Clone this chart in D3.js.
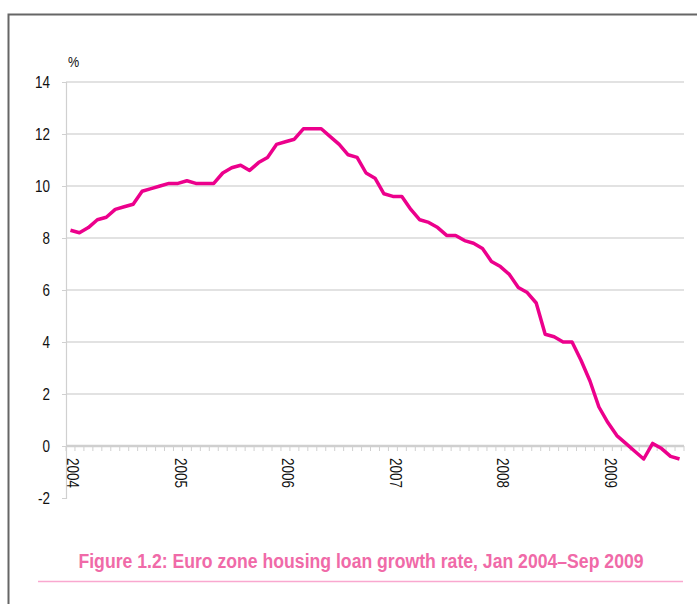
<!DOCTYPE html>
<meta charset="utf-8">
<script src="https://d3js.org/d3.v7.min.js"></script>
<style type="text/css">
  body { margin: 0; background: #fff; }
  text { font-family: "Liberation Sans Narrow", "Arial Narrow", "Liberation Sans", Arial, sans-serif; }
</style>
<body>
</body>
<script>

// monthly categories Jan 2004 - Sep 2009
var months = d3.timeMonth.range(new Date(2004, 0, 1), new Date(2009, 9, 1));
var yearLabels = ["2004", "2005", "2006", "2007", "2008", "2009"];
var yTicks = [-2, 0, 2, 4, 6, 8, 10, 12, 14];

// housing loan growth, % y/y
var growth = [
  8.3, 8.2, 8.4, 8.7, 8.8, 9.1, 9.2, 9.3, 9.8, 9.9, 10.0, 10.1,
  10.1, 10.2, 10.1, 10.1, 10.1, 10.5, 10.7, 10.8, 10.6, 10.9, 11.1, 11.6,
  11.7, 11.8, 12.2, 12.2, 12.2, 11.9, 11.6, 11.2, 11.1, 10.5, 10.3, 9.7,
  9.6, 9.6, 9.1, 8.7, 8.6, 8.4, 8.1, 8.1, 7.9, 7.8, 7.6, 7.1,
  6.9, 6.6, 6.1, 5.9, 5.5, 4.3, 4.2, 4.0, 4.0, 3.3, 2.5, 1.5,
  0.9, 0.4, 0.1, -0.2, -0.5, 0.1, -0.1, -0.4, -0.5
];

var width = 697, height = 604;
var plot = {left: 66, right: 684, top: 82, bottom: 498};
var narrow = 0.84; // squeeze factor to imitate a narrow face

var svg = d3.select("body").append("svg")
  .attr("width", width)
  .attr("height", height);

// frame (top and left edges)
svg.append("path")
  .attr("d", "M8.5," + height + "V14.5H" + width)
  .attr("fill", "none")
  .attr("stroke", "#666")
  .attr("stroke-width", 2);

var fmt = d3.timeFormat("%Y-%m");

var xScale = d3.scaleBand()
  .domain(months.map(fmt))
  .range([plot.left, plot.right]);

var yScale = d3.scaleLinear()
  .domain([-2, 14])
  .range([plot.bottom, plot.top]);

// gridlines
svg.append("g").selectAll("line")
  .data(yTicks.filter(d => d > 0))
  .enter().append("line")
  .attr("x1", plot.left).attr("x2", plot.right)
  .attr("y1", d => yScale(d)).attr("y2", d => yScale(d))
  .attr("stroke", "#d9d9d9")
  .attr("stroke-width", 1.5);

// y axis
var yAxis = d3.axisLeft(yScale)
  .tickValues(yTicks)
  .tickSize(4)
  .tickFormat(d => String(d));

var yAxisGroup = svg.append("g")
  .attr("class", "y axis")
  .attr("transform", `translate(${plot.left},0)`)
  .call(yAxis);

yAxisGroup.select(".domain").attr("stroke", "#d0d0d0").attr("stroke-width", 1.2);
yAxisGroup.selectAll(".tick line").attr("stroke", "#d0d0d0");
yAxisGroup.selectAll("text")
  .attr("x", -16 / narrow)
  .attr("transform", `scale(${narrow},1)`)
  .attr("fill", "#111")
  .style("font-size", "16px");

svg.append("text")
  .attr("transform", `translate(68,67) scale(${narrow},1)`)
  .attr("fill", "#111")
  .style("font-size", "15px")
  .text("%");

// x axis along zero line, minor tick each month
var y0 = yScale(0);
var xAxisGroup = svg.append("g").attr("class", "x axis");

xAxisGroup.selectAll(".minor")
  .data(months.map(fmt).concat(["end"]))
  .enter().append("line")
  .attr("class", "minor")
  .attr("x1", d => d == "end" ? plot.right : xScale(d))
  .attr("x2", d => d == "end" ? plot.right : xScale(d))
  .attr("y1", y0)
  .attr("y2", y0 + 5)
  .attr("stroke", "#d0d0d0")
  .attr("stroke-width", 1);

xAxisGroup.append("line")
  .attr("x1", plot.left).attr("x2", plot.right)
  .attr("y1", y0).attr("y2", y0)
  .attr("stroke", "#cfcfcf")
  .attr("stroke-width", 2.5);

xAxisGroup.selectAll(".year")
  .data(yearLabels)
  .enter().append("text")
  .attr("class", "year")
  .attr("transform", d => `translate(${xScale(d + "-01") + xScale.bandwidth() / 2},${y0 + 12}) rotate(90) scale(${narrow},1)`)
  .attr("dy", "0.2em")
  .attr("fill", "#111")
  .style("font-size", "16px")
  .style("text-anchor", "start")
  .text(d => d);

// the line
var line = d3.line()
  .x((d, i) => xScale(fmt(months[i])) + xScale.bandwidth() / 2)
  .y(d => yScale(d));

svg.append("path")
  .datum(growth)
  .attr("d", line)
  .attr("fill", "none")
  .attr("stroke", "#ec008c")
  .attr("stroke-width", 3.5)
  .attr("stroke-linejoin", "round");

// caption
svg.append("text")
  .attr("transform", `translate(361,568) scale(${narrow},1)`)
  .attr("text-anchor", "middle")
  .attr("fill", "#f06aa8")
  .style("font-size", "21px")
  .style("font-weight", "bold")
  .text("Figure 1.2: Euro zone housing loan growth rate, Jan 2004\u2013Sep 2009");

svg.append("line")
  .attr("x1", 38).attr("x2", 683)
  .attr("y1", 581.5).attr("y2", 581.5)
  .attr("stroke", "#f9a8cf")
  .attr("stroke-width", 1.5);

</script>
